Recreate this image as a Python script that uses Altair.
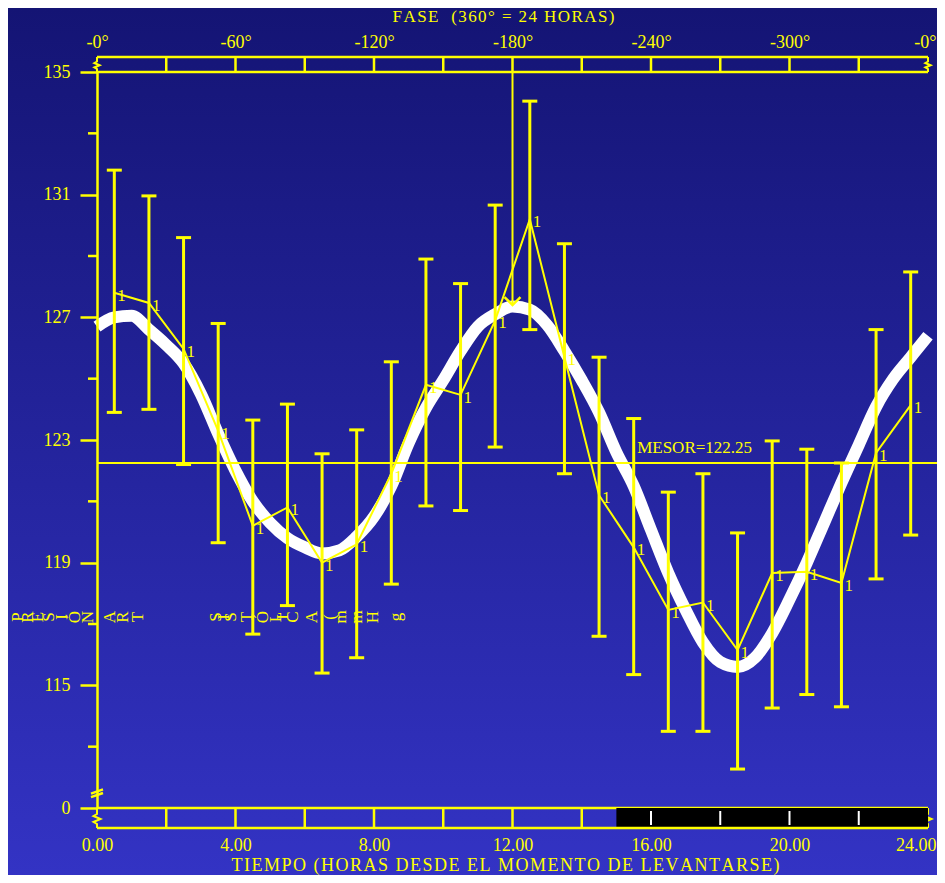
import pandas as pd
import altair as alt

# Hourly means of systolic pressure with the ends of the error bars
HOURS = [0.5, 1.5, 2.5, 3.5, 4.5, 5.5, 6.5, 7.5, 8.5, 9.5, 10.5, 11.5,
         12.5, 13.5, 14.5, 15.5, 16.5, 17.5, 18.5, 19.5, 20.5, 21.5, 22.5, 23.5]
MEAN = [127.8, 127.47, 125.97, 123.3, 120.2, 120.8, 119.0, 119.6, 121.9, 124.8, 124.47, 126.9,
        130.2, 125.7, 121.2, 119.5, 117.46, 117.7, 116.15, 118.66, 118.7, 118.34, 122.58, 124.14]
UPPER = [131.8, 130.96, 129.6, 126.8, 123.65, 124.17, 122.55, 123.33, 125.55, 128.9, 128.1, 130.66,
         134.05, 129.4, 125.7, 123.7, 121.3, 121.9, 119.97, 122.97, 122.7, 122.25, 126.6, 128.48]
LOWER = [123.9, 124.0, 122.2, 119.65, 116.67, 117.6, 115.4, 115.9, 118.3, 120.85, 120.7, 122.77,
         126.6, 121.9, 116.6, 115.35, 113.5, 113.5, 112.27, 114.26, 114.7, 114.3, 118.47, 119.9]

# Fitted rhythm (white band)
CURVE_T = [0, 0.5, 1, 1.5, 2, 2.5, 3, 3.5, 4, 4.5, 5, 5.5, 6, 6.5, 7, 7.5, 8, 8.5,
           9, 9.5, 10, 10.5, 11, 11.5, 12, 12.5, 13, 13.5, 14, 14.5, 15, 15.5, 16, 16.5,
           17, 17.5, 18, 18.5, 19, 19.5, 20, 20.5, 21, 21.5, 22, 22.5, 23, 23.5, 24]
CURVE_Y = [126.7, 127.0, 127.05, 126.6, 126.1, 125.5, 124.5, 123.2, 122.0, 121.0, 120.3, 119.8,
           119.5, 119.3, 119.4, 119.85, 120.5, 121.5, 122.9, 124.05, 124.95, 125.9, 126.7, 127.1,
           127.35, 127.25, 126.75, 125.9, 124.95, 123.9, 122.6, 121.5, 120.07, 118.66, 117.46,
           116.4, 115.76, 115.6, 115.9, 116.7, 117.8, 119.0, 120.3, 121.6, 122.84, 124.08,
           125.0, 125.7, 126.4]

MESOR = 122.25
ACRO_T = 12.0
ACRO_Y = 127.4
NIGHT_START = 15.0
NIGHT_END = 24.0

Y_LABELS = [111, 115, 119, 123, 127, 131, 135]
Y_MINOR = [113, 117, 121, 125, 129, 133]
X_LABELS = [0, 4, 8, 12, 16, 20, 24]
BOX_TICKS = [2, 4, 6, 8, 10, 12, 14, 16, 18, 20, 22]

# y title: glyphs set one by one, turned on their side
TITLE_CHARS = ["P", "R", "E", "S", "I", "Ó", "N", "A", "R", "T",
               "S", "I", "S", "T", "Ó", "L", "I", "C", "A", "(", "m", "m", "H", "g"]
TITLE_X = [18, 28, 38, 49, 62, 75, 88, 110, 123, 138,
           216, 224, 231, 247, 263, 276, 283, 293, 312, 330, 341, 357, 373, 396]

W, H = 831, 736
YEL = "#ffff00"
FONT = "Liberation Serif"
HAIR = "\u200a"


def spaced(s):
    # the original titles are set with a little extra tracking
    return HAIR.join(s)


xs = alt.Scale(domain=[0, 24], nice=False, zero=False)
ys = alt.Scale(domain=[111, 135], nice=False, zero=False)

df = pd.DataFrame({"t": HOURS, "mean": MEAN, "hi": UPPER, "lo": LOWER})
curve = pd.DataFrame({"t": CURVE_T, "y": CURVE_Y})
one = pd.DataFrame({"m": [MESOR], "at": [ACRO_T], "ay": [ACRO_Y], "top": [135],
                    "brk": [111.5], "lab": [15.6], "zero": [0],
                    "n0": [NIGHT_START], "n1": [NIGHT_END]})
ends = pd.DataFrame({"t": [0, 24]})
minor = pd.DataFrame({"v": Y_MINOR})
boxes = pd.DataFrame({"t": BOX_TICKS})
letters = pd.DataFrame({"ch": TITLE_CHARS, "px": [x - 97 for x in TITLE_X]})

# last label pulled in so it stays on the canvas
last_align = {"condition": {"test": "datum.value == 24", "value": "right"}, "value": "center"}
last_offset = {"condition": {"test": "datum.value == 24", "value": 8}, "value": 0}

bottom_axis = alt.Axis(orient="bottom", values=X_LABELS, format=".2f", offset=20,
                       domain=False, ticks=False, grid=False, labelPadding=8, zindex=1,
                       labelFlush=False, labelOverlap=False,
                       labelAlign=last_align, labelOffset=last_offset,
                       labelColor=YEL, labelFont=FONT, labelFontSize=18,
                       title=spaced("TIEMPO (HORAS DESDE EL MOMENTO DE LEVANTARSE)"),
                       titleColor=YEL, titleFont=FONT, titleFontSize=18, titleX=408,
                       titleFontWeight="normal", titlePadding=2)
top_axis = alt.Axis(orient="top", values=X_LABELS, offset=15, domain=False, ticks=False,
                    grid=False, labelPadding=6, zindex=1, labelFlush=False, labelOverlap=False,
                    labelAlign=last_align, labelOffset=last_offset,
                    labelExpr="datum.value == 0 || datum.value == 24 ? '-0°' : '-' + datum.value * 15 + '°'",
                    labelColor=YEL, labelFont=FONT, labelFontSize=18,
                    title=spaced("FASE\u00a0 (360° = 24 HORAS)"), titleColor=YEL, titleFont=FONT,
                    titleFontSize=17, titleFontWeight="normal", titlePadding=8, titleX=406)
y_axis = alt.Axis(values=Y_LABELS, labelExpr="datum.value == 111 ? '0' : datum.value",
                  grid=False, tickSize=17, tickWidth=2.5, tickColor=YEL, zindex=1,
                  domainColor=YEL, domainWidth=2.5, labelPadding=10, labelFlush=False,
                  labelColor=YEL, labelFont=FONT, labelFontSize=18, title=None)

grad = alt.Gradient(gradient="linear",
                    stops=[alt.GradientStop(color="#141474", offset=0),
                           alt.GradientStop(color="#3333c4", offset=1)],
                    x1=0, x2=0, y1=0, y2=1)
bg = alt.Chart(one).mark_rect(color=grad).encode(
    x=alt.value(-89), x2=alt.value(W + 9), y=alt.value(-64), y2=alt.value(H + 67))

mesor_line = alt.Chart(one).mark_rule(color=YEL, strokeWidth=2).encode(
    y=alt.Y("m:Q", scale=ys, axis=None), x=alt.value(0), x2=alt.value(W + 9))
mesor_text = alt.Chart(one).mark_text(
    text="MESOR=122.25", color=YEL, font=FONT, fontSize=17, align="left",
    baseline="bottom", dy=-6).encode(
    x=alt.X("lab:Q", scale=xs, axis=None), y=alt.Y("m:Q", scale=ys, axis=None))

rhythm = alt.Chart(curve).mark_line(color="white", strokeWidth=12, interpolate="monotone").encode(
    x=alt.X("t:Q", scale=xs, axis=top_axis), y=alt.Y("y:Q", scale=ys, axis=None))

acro_line = alt.Chart(one).mark_rule(color=YEL, strokeWidth=2).encode(
    x=alt.X("at:Q", scale=xs, axis=None), y=alt.Y("top:Q", scale=ys, axis=None), y2="ay:Q")
acro_head = alt.Chart(one).mark_point(
    shape="M-1,-1L0,0L1,-1", size=256, filled=False, color=YEL, strokeWidth=2.5, opacity=1).encode(
    x=alt.X("at:Q", scale=xs, axis=None), y=alt.Y("ay:Q", scale=ys, axis=None))

bars = alt.Chart(df).mark_rule(color=YEL, strokeWidth=3).encode(
    x=alt.X("t:Q", scale=xs, axis=bottom_axis),
    y=alt.Y("lo:Q", scale=ys, axis=y_axis), y2="hi:Q")
cap_hi = alt.Chart(df).mark_tick(color=YEL, orient="horizontal", size=15, thickness=3, opacity=1).encode(
    x=alt.X("t:Q", scale=xs, axis=None), y=alt.Y("hi:Q", scale=ys, axis=None))
cap_lo = alt.Chart(df).mark_tick(color=YEL, orient="horizontal", size=15, thickness=3, opacity=1).encode(
    x=alt.X("t:Q", scale=xs, axis=None), y=alt.Y("lo:Q", scale=ys, axis=None))
means = alt.Chart(df).mark_line(color=YEL, strokeWidth=2).encode(
    x=alt.X("t:Q", scale=xs, axis=None), y=alt.Y("mean:Q", scale=ys, axis=None))
ones = alt.Chart(df).mark_text(
    text="1", color=YEL, font=FONT, fontSize=17, align="left", baseline="middle", dx=3, dy=3).encode(
    x=alt.X("t:Q", scale=xs, axis=None), y=alt.Y("mean:Q", scale=ys, axis=None))

minor_ticks = alt.Chart(minor).mark_rule(color=YEL, strokeWidth=2.5).encode(
    y=alt.Y("v:Q", scale=ys, axis=None), x=alt.value(-9), x2=alt.value(0))

# phase box above and time box below the plot
line_top = alt.Chart(one).mark_rule(color=YEL, strokeWidth=2.5).encode(
    y=alt.value(-15), x=alt.value(0), x2=alt.value(W))
line_mid_top = alt.Chart(one).mark_rule(color=YEL, strokeWidth=2.5).encode(
    y=alt.value(0), x=alt.value(0), x2=alt.value(W))
line_mid_bot = alt.Chart(one).mark_rule(color=YEL, strokeWidth=2.5).encode(
    y=alt.value(H), x=alt.value(0), x2=alt.value(W))
top_div = alt.Chart(boxes).mark_rule(color=YEL, strokeWidth=2.5).encode(
    x=alt.X("t:Q", scale=xs, axis=None), y=alt.value(-15), y2=alt.value(0))
bot_div = alt.Chart(boxes).transform_filter(f"datum.t < {NIGHT_START}").mark_rule(
    color=YEL, strokeWidth=2.5).encode(
    x=alt.X("t:Q", scale=xs, axis=None), y=alt.value(H), y2=alt.value(H + 20))
squig_top = alt.Chart(ends).mark_point(
    shape="M0,-1L0,-0.4L-0.35,-0.2L0.35,0.1L-0.35,0.4L0,0.6L0,1", size=225, filled=False,
    color=YEL, strokeWidth=2, opacity=1).encode(
    x=alt.X("t:Q", scale=xs, axis=None), y=alt.value(-7.5))
squig_bot = alt.Chart(ends).mark_point(
    shape="M0,-1L0,-0.4L-0.35,-0.2L0.35,0.1L-0.35,0.4L0,0.6L0,1", size=400, filled=False,
    color=YEL, strokeWidth=2, opacity=1).encode(
    x=alt.X("t:Q", scale=xs, axis=None), y=alt.value(H + 10))
night = alt.Chart(one).mark_rect(color="black").encode(
    x=alt.X("n0:Q", scale=xs, axis=None), x2="n1:Q", y=alt.value(H), y2=alt.value(H + 19))
night_div = alt.Chart(boxes).transform_filter(f"datum.t > {NIGHT_START}").mark_rule(
    color="white", strokeWidth=2).encode(
    x=alt.X("t:Q", scale=xs, axis=None), y=alt.value(H + 3), y2=alt.value(H + 17))
box_bottom = alt.Chart(one).mark_rule(color=YEL, strokeWidth=2.5).encode(
    y=alt.value(H + 20), x=alt.value(0), x2=alt.value(W))
axis_break = alt.Chart(one).mark_point(
    shape="M-1,0.15L1,-0.55M-1,0.75L1,0.05", size=144, filled=False, color=YEL,
    strokeWidth=2.5, opacity=1).encode(
    x=alt.X("zero:Q", scale=xs, axis=None), y=alt.Y("brk:Q", scale=ys, axis=None))

y_title = alt.Chart(letters).mark_text(
    color=YEL, font=FONT, fontSize=17, angle=270, align="center", baseline="middle").encode(
    x=alt.X("px:Q", scale=None, axis=None), y=alt.value(545), text="ch:N")

chart = alt.layer(
    bg, rhythm, mesor_line, acro_line, acro_head, bars, cap_hi, cap_lo, means, ones,
    mesor_text, minor_ticks, line_top, line_mid_top, line_mid_bot, top_div, bot_div,
    squig_top, squig_bot, night, night_div, box_bottom, axis_break, y_title,
).resolve_scale(x="independent", y="independent").resolve_axis(
    x="independent", y="independent").properties(
    width=W, height=H,
    autosize=alt.AutoSizeParams(type="none"),
    padding={"left": 89, "top": 64, "right": 9, "bottom": 67},
    background="#23239a",
).configure_view(stroke=None)

chart.save("out.html", embed_options={"renderer": "svg", "actions": False})
